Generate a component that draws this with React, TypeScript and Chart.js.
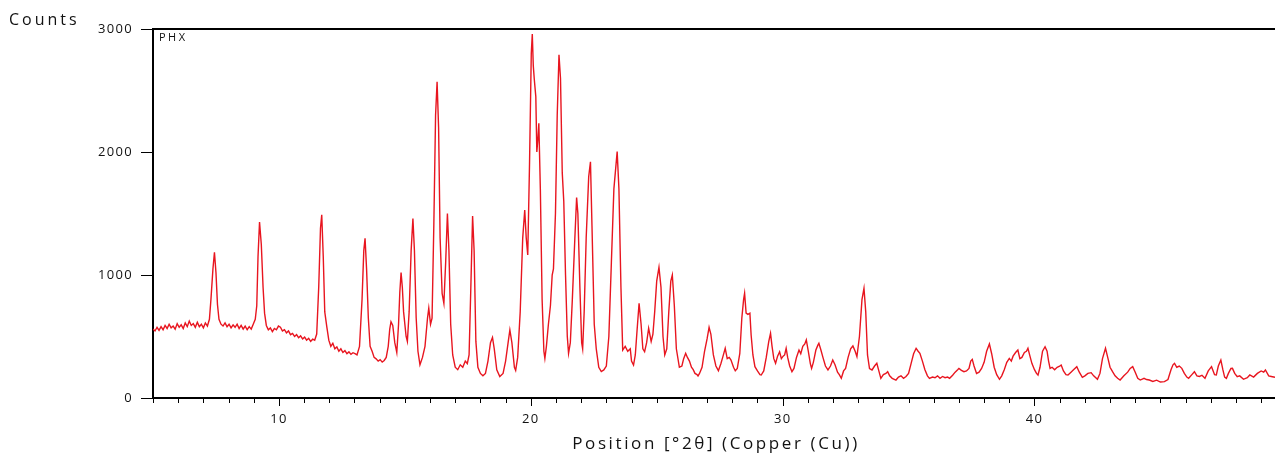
import React, { useEffect, useRef } from 'react';
import { Chart, registerables } from 'chart.js';

Chart.register(...registerables);

const twoTheta = [
  5.0, 5.08, 5.16, 5.24, 5.32, 5.4, 5.48, 5.56, 5.64, 5.72, 5.8, 5.88, 5.96, 6.04, 6.12, 6.2, 6.28, 6.36, 6.44, 6.52, 6.6, 6.68, 6.76, 6.84, 6.92, 7.0, 7.08, 7.16, 7.24,
  7.3, 7.38, 7.44, 7.5, 7.56, 7.62, 7.7, 7.78, 7.86, 7.94, 8.02, 8.1, 8.18, 8.26, 8.34, 8.42, 8.5, 8.58, 8.66, 8.74, 8.82, 8.9, 8.98, 9.06,
  9.12, 9.17, 9.23, 9.3, 9.37, 9.43, 9.5, 9.58, 9.66, 9.74, 9.82, 9.9, 9.98, 10.06, 10.14, 10.22, 10.3, 10.38, 10.46, 10.54, 10.62, 10.7, 10.78, 10.86, 10.94, 11.02, 11.1, 11.18, 11.26, 11.34, 11.42, 11.5,
  11.58, 11.65, 11.7, 11.76, 11.82, 11.9, 11.98, 12.06, 12.14, 12.22, 12.3, 12.38, 12.46, 12.54, 12.62, 12.7, 12.78, 12.86, 12.94, 13.02, 13.1, 13.2,
  13.3, 13.37, 13.42, 13.48, 13.55, 13.62, 13.7, 13.78, 13.86, 13.94, 14.02, 14.1, 14.18, 14.26, 14.34, 14.4, 14.45, 14.52, 14.6, 14.68,
  14.75, 14.8, 14.85, 14.9, 14.95, 15.05, 15.1, 15.17, 15.25, 15.32, 15.38, 15.45, 15.52, 15.6, 15.7, 15.8, 15.9, 15.95, 16.02, 16.08,
  16.15, 16.22, 16.28, 16.34, 16.4, 16.48, 16.55, 16.62, 16.69, 16.75, 16.82, 16.9, 17.0, 17.1, 17.2, 17.3, 17.4, 17.48, 17.55,
  17.62, 17.69, 17.75, 17.82, 17.9, 18.0, 18.1, 18.2, 18.3, 18.4, 18.48, 18.55, 18.65, 18.77, 18.9, 19.0, 19.1, 19.17, 19.25, 19.35, 19.4,
  19.48, 19.58, 19.68, 19.76, 19.82, 19.88, 19.95, 20.02, 20.06, 20.1, 20.14, 20.2, 20.24, 20.28, 20.32, 20.38, 20.45, 20.52, 20.56,
  20.62, 20.7, 20.78, 20.85, 20.9, 20.98, 21.05, 21.12, 21.18, 21.25, 21.31, 21.38, 21.45, 21.5, 21.57, 21.65, 21.75, 21.82, 21.87,
  21.95, 22.02, 22.06, 22.12, 22.2, 22.3, 22.37, 22.43, 22.52, 22.6, 22.7, 22.8, 22.9, 23.0, 23.1, 23.2, 23.3, 23.36, 23.43, 23.5,
  23.58, 23.65, 23.75, 23.85, 23.95, 24.0, 24.08, 24.15, 24.22, 24.3, 24.38, 24.45, 24.52, 24.6, 24.68, 24.78, 24.85, 24.92, 25.0,
  25.09, 25.17, 25.25, 25.32, 25.4, 25.48, 25.56, 25.62, 25.7, 25.78, 25.9, 26.0, 26.07, 26.15, 26.22, 26.3, 26.38, 26.45, 26.52,
  26.6, 26.64, 26.7, 26.8, 26.9, 27.0, 27.08, 27.15, 27.25, 27.35, 27.45, 27.55, 27.62, 27.72, 27.8, 27.88, 27.95, 28.05, 28.12,
  28.2, 28.3, 28.38, 28.45, 28.49, 28.55, 28.62, 28.7, 28.75, 28.82, 28.9, 29.0, 29.1, 29.15, 29.25, 29.35, 29.45, 29.52, 29.58,
  29.65, 29.72, 29.8, 29.88, 29.95, 30.02, 30.08, 30.14, 30.2, 30.28, 30.37, 30.45, 30.55, 30.65, 30.72, 30.8, 30.88, 30.94, 31.02,
  31.1, 31.15, 31.22, 31.32, 31.4, 31.44, 31.52, 31.6, 31.7, 31.8, 31.9, 31.99, 32.08, 32.18, 32.25, 32.33, 32.42, 32.5, 32.6,
  32.7, 32.79, 32.88, 32.95, 33.05, 33.15, 33.23, 33.3, 33.37, 33.45, 33.55, 33.65, 33.74, 33.82, 33.9, 34.0, 34.1, 34.17, 34.25,
  34.35, 34.5, 34.6, 34.7, 34.8, 34.9, 35.0, 35.1, 35.2, 35.3, 35.38, 35.45, 35.55, 35.65, 35.75, 35.83, 35.95, 36.05, 36.15,
  36.25, 36.35, 36.45, 36.55, 36.63, 36.75, 36.85, 36.95, 37.0, 37.1, 37.2, 37.3, 37.4, 37.47, 37.53, 37.6, 37.7, 37.8, 37.9,
  38.0, 38.1, 38.21, 38.3, 38.4, 38.5, 38.61, 38.7, 38.8, 38.9, 39.0, 39.08, 39.15, 39.25, 39.34, 39.42, 39.5, 39.6, 39.68, 39.74,
  39.82, 39.9, 40.0, 40.08, 40.14, 40.22, 40.32, 40.42, 40.5, 40.56, 40.62, 40.7, 40.8, 40.9, 41.0, 41.06, 41.15, 41.25, 41.33,
  41.45, 41.55, 41.68, 41.78, 41.9, 42.0, 42.12, 42.25, 42.35, 42.5, 42.6, 42.7, 42.82, 42.92, 43.0, 43.1, 43.2, 43.3, 43.4,
  43.55, 43.7, 43.8, 43.9, 44.0, 44.1, 44.2, 44.35, 44.45, 44.56, 44.7, 44.85, 45.0, 45.16, 45.3, 45.42, 45.5, 45.56, 45.65,
  45.75, 45.85, 45.95, 46.05, 46.12, 46.25, 46.35, 46.45, 46.55, 46.65, 46.77, 46.9, 47.03, 47.15, 47.22, 47.3, 47.4, 47.48, 47.55,
  47.62, 47.7, 47.8, 47.86, 47.95, 48.05, 48.15, 48.3, 48.45, 48.55, 48.7, 48.85, 49.0, 49.1, 49.17, 49.3, 49.4, 49.55,
];

const counts = [
  560, 545, 575, 550, 580, 555, 590, 565, 600, 570, 585, 560, 605, 575, 595, 565, 610, 580, 625, 590, 605, 575, 615, 580, 600, 570, 610, 585, 640,
  800, 1050, 1185, 1020, 760, 640, 600, 585, 610, 580, 600, 570, 595, 575, 600, 565, 590, 560, 585, 555, 580, 560, 600, 640,
  750, 1150, 1430, 1250, 900, 690, 590, 555, 570, 540, 565, 555, 585, 575, 545, 555, 530, 545, 515, 525, 500, 515, 490, 505, 480, 495, 470, 485, 460, 478, 470, 520,
  900, 1380, 1490, 1150, 700, 580, 470, 420, 445, 400, 415, 380, 400, 370, 385, 360, 375, 355, 368, 360, 350, 420,
  800, 1200, 1298, 1050, 650, 420, 380, 330, 318, 300, 312, 292, 305, 330, 420, 560, 620, 590, 450, 370,
  600, 860, 1020, 900, 700, 500, 460, 700, 1200, 1460, 1200, 650, 380, 270, 330, 420, 650, 730, 600, 650,
  1400, 2300, 2570, 2200, 1300, 850, 770, 1100, 1500, 1200, 600, 350, 250, 230, 270, 250, 300, 280, 350,
  900, 1480, 1200, 460, 250, 200, 180, 200, 300, 450, 493, 400, 230, 175, 200, 300, 450, 553, 450, 250, 225,
  330, 700, 1300, 1528, 1300, 1163, 1900, 2800, 2960, 2700, 2590, 2450, 2000, 2100, 2233, 1700, 800, 380, 322,
  420, 600, 750, 1000, 1050, 1500, 2300, 2790, 2600, 1830, 1600, 1000, 500, 363, 450, 800, 1300, 1630, 1500,
  900, 450, 400, 700, 1300, 1800, 1920, 1400, 600, 400, 250, 215, 228, 260, 500, 1100, 1700, 1840, 2003, 1700,
  900, 390, 420, 380, 400, 300, 268, 350, 550, 770, 600, 400, 376, 450, 567, 460, 520, 700, 950,
  1062, 900, 500, 350, 400, 700, 950, 1000, 750, 400, 250, 260, 320, 363, 330, 300, 250, 230, 200,
  190, 179, 200, 250, 380, 480, 575, 520, 350, 260, 222, 280, 330, 404, 320, 330, 309, 250, 222,
  240, 363, 650, 800, 851, 690, 680, 690, 510, 350, 255, 220, 190, 187, 220, 330, 460, 526, 420,
  320, 282, 340, 376, 320, 340, 350, 404, 330, 260, 214, 240, 330, 390, 360, 420, 440, 472, 380,
  280, 241, 290, 390, 430, 445, 390, 330, 260, 228, 260, 309, 270, 210, 190, 160, 220, 241, 330,
  400, 423, 380, 336, 500, 800, 892, 700, 350, 240, 228, 260, 282, 220, 160, 190, 200, 214, 180,
  160, 146, 170, 180, 160, 175, 200, 280, 360, 404, 380, 363, 300, 230, 180, 160, 170, 165, 180,
  160, 175, 165, 170, 160, 185, 210, 230, 241, 225, 214, 220, 240, 300, 314, 260, 200, 210, 240,
  290, 380, 439, 360, 250, 190, 152, 180, 230, 290, 322, 300, 340, 370, 390, 320, 330, 370, 380, 404,
  340, 280, 230, 200, 187, 250, 380, 417, 380, 300, 241, 250, 230, 250, 260, 268, 220, 190, 187,
  210, 230, 255, 210, 168, 180, 200, 206, 180, 152, 200, 320, 404, 320, 250, 214, 180, 160, 146,
  180, 210, 240, 255, 210, 160, 146, 160, 150, 146, 135, 145, 130, 133, 150, 230, 270, 282, 250,
  260, 241, 200, 170, 160, 190, 214, 180, 175, 185, 160, 220, 255, 190, 187, 260, 309, 230, 170,
  160, 200, 240, 241, 200, 173, 180, 152, 165, 187, 170, 200, 220, 210, 228, 180, 175, 168,
];

const yTickValues = [0, 1000, 2000, 3000];
const xLabelValues = [10, 20, 30, 40];
const yTitle = 'Counts';
const xTitle = 'Position [°2θ] (Copper (Cu))';
const sampleName = 'PHX';

export default function App() {
  const ref = useRef<HTMLCanvasElement>(null);

  useEffect(() => {
    const canvas = ref.current;
    if (!canvas) return;

    const decor = {
      id: 'xrdDecor',
      beforeDraw(chart: any) {
        (chart.ctx as any).letterSpacing = '1.3px';
      },
      afterDraw(chart: any) {
        const c = chart.ctx as CanvasRenderingContext2D;
        const { left, right, top, bottom } = chart.chartArea;
        const xs = chart.scales.x;
        c.save();
        c.strokeStyle = '#000';
        c.lineWidth = 2;
        c.beginPath();
        c.moveTo(left - 1, top);
        c.lineTo(right, top);
        c.stroke();
        c.lineWidth = 1;
        for (let v = Math.ceil(xs.min); v <= xs.max; v++) {
          const px = Math.round(xs.getPixelForValue(v)) + 0.5;
          const len = v % 10 === 0 ? 8 : 5;
          c.beginPath();
          c.moveTo(px, bottom);
          c.lineTo(px, bottom + len);
          c.stroke();
        }
        c.fillStyle = '#111';
        c.textBaseline = 'alphabetic';
        c.textAlign = 'left';
        (c as any).letterSpacing = '3px';
        c.font = '16px "Open Sans"';
        c.fillText(yTitle, 9, 25);
        (c as any).letterSpacing = '2.5px';
        c.font = '11px "Open Sans"';
        c.fillText(sampleName, left + 6, top + 12);
        (c as any).letterSpacing = '2.6px';
        c.font = '17px "Open Sans"';
        c.textAlign = 'center';
        c.fillText(xTitle, 716, 449);
        c.restore();
      },
    };

    const chart = new Chart(canvas, {
      type: 'line',
      data: {
        datasets: [
          {
            data: twoTheta.map((x, i) => ({ x, y: counts[i] })),
            borderColor: '#e8151f',
            borderWidth: 1.4,
            pointRadius: 0,
            tension: 0,
            fill: false,
          },
        ],
      },
      options: {
        animation: false,
        responsive: false,
        devicePixelRatio: 1,
        parsing: false as any,
        layout: { padding: { top: 29, right: 0, left: 0, bottom: 0 } },
        plugins: { legend: { display: false }, tooltip: { enabled: false } },
        scales: {
          x: {
            type: 'linear',
            min: 5,
            max: 49.55,
            grid: { display: false, drawTicks: false },
            border: { display: true, color: '#000', width: 2 },
            ticks: {
              stepSize: 10,
              includeBounds: false,
              autoSkip: false,
              maxRotation: 0,
              padding: 13,
              color: '#111',
              font: { family: '"Open Sans"', size: 13 },
              callback: (v: any) => (xLabelValues.includes(Number(v)) ? String(v) : ''),
            },
            afterFit: (s: any) => {
              s.height = 57;
            },
          },
          y: {
            type: 'linear',
            min: 0,
            max: 3000,
            grid: { display: true, drawOnChartArea: false, drawTicks: true, tickLength: 12, color: '#000', lineWidth: 1 },
            border: { display: true, color: '#000', width: 2 },
            ticks: {
              stepSize: 1000,
              padding: 8,
              color: '#111',
              font: { family: '"Open Sans"', size: 13 },
              callback: (v: any) => (yTickValues.includes(Number(v)) ? String(v) : ''),
            },
            afterFit: (s: any) => {
              s.width = 153;
            },
          },
        },
      },
      plugins: [decor],
    });

    return () => chart.destroy();
  }, []);

  return (
    <div style={{ position: 'absolute', left: 0, top: 0, width: 1275, height: 455, background: '#fff' }}>
      <canvas ref={ref} width={1275} height={455} style={{ width: 1275, height: 455 }} />
    </div>
  );
}
